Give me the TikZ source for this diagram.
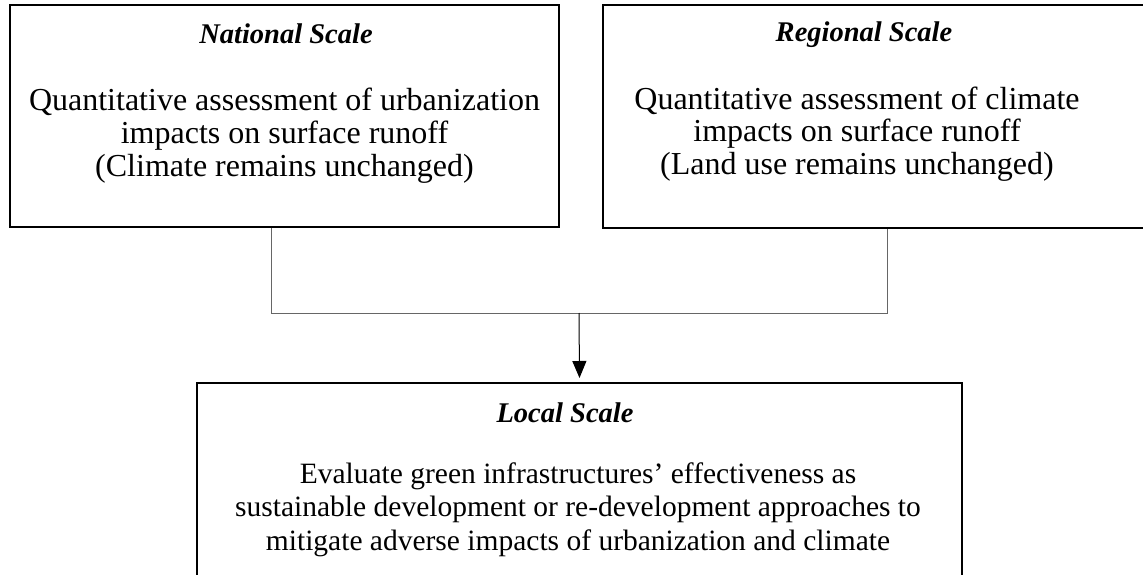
\documentclass[tikz,border=0pt]{standalone}
\usepackage{fontspec}
\setmainfont{Liberation Serif}
\usetikzlibrary{arrows.meta,calc}
\begin{document}
\begin{tikzpicture}[x=1pt,y=-1pt,
  scalebox/.style={draw=black,line width=2pt,inner sep=0pt},
  heading/.style={font=\fontsize{28.5}{33}\selectfont\bfseries\itshape,inner sep=0pt,anchor=base},
  bodytext/.style={font=\fontsize{29.5}{33.5}\selectfont,align=center,inner sep=0pt,anchor=base},
  topbody/.style={bodytext,font=\fontsize{32}{33}\selectfont},
  link/.style={draw=black!60,line width=1pt},
  flow/.style={draw=black,line width=1pt,-{Triangle[width=14pt,length=17pt]}}]
\useasboundingbox (0,0) rectangle (1143,575);
\clip (0,0) rectangle (1143,575);

% the three scale boxes
\node[scalebox,minimum width=549pt,minimum height=222pt] (natbox) at (284.5,116) {};
\node[scalebox,minimum width=549pt,minimum height=223pt] (regbox) at (877.5,116.5) {};
\node[scalebox,minimum width=765pt,minimum height=260pt] (locbox) at (579.5,513) {};

% box texts (body nodes are placed by the baseline of their last line)
\node[heading] (nathead) at (286,44) {National Scale};
\node[topbody] (nattext) at (284.5,176) {Quantitative assessment of urbanization\\impacts on surface runoff\\(Climate remains unchanged)};

\node[heading] (reghead) at (864,42) {Regional Scale};
\node[topbody] (regtext) at (857,175) {Quantitative assessment of climate\\impacts on surface runoff\\(Land use remains unchanged)};

\node[heading] (lochead) at (565,422) {Local Scale};
\node[bodytext] (loctext) at (578,550) {Evaluate green infrastructures’ effectiveness as\\sustainable development or re-development approaches to\\mitigate adverse impacts of urbanization and climate};

% joining connector and arrow
\coordinate (jl) at (271,313);
\coordinate (jr) at (887,313);
\coordinate (jm) at ($(jl)!0.5!(jr)$);
\draw[link] (natbox.south -| jl) -- (jl) -- (jr) -- (regbox.south -| jr);
\draw[flow] (jm) -- ([yshift=4pt]locbox.north);
\end{tikzpicture}
\end{document}
